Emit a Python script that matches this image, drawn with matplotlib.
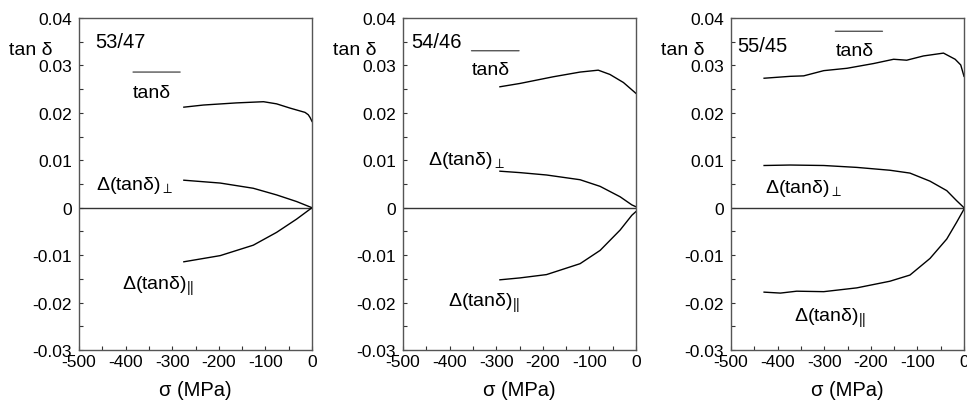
import matplotlib
matplotlib.use("Agg")
import matplotlib.pyplot as plt
from matplotlib.ticker import MultipleLocator

plt.rcParams['font.family'] = ['Liberation Sans', 'DejaVu Sans']
plt.rcParams['axes.unicode_minus'] = False
plt.rcParams['mathtext.fontset'] = 'custom'
plt.rcParams['mathtext.rm'] = 'Liberation Sans'
plt.rcParams['mathtext.it'] = 'Liberation Sans'
plt.rcParams['mathtext.bf'] = 'Liberation Sans:bold'
plt.rcParams['mathtext.fallback'] = 'stixsans'

# composition 53/47
s1_tan = [-275, -233, -162, -104, -76, -47, -15, -8, -4, 0]
v1_tan = [0.0212, 0.02165, 0.0221, 0.02235, 0.0219, 0.0210, 0.0201, 0.0196, 0.0190, 0.0182]
s1_d = [-275, -197, -126, -76, -33, 0]
v1_perp = [0.0058, 0.0052, 0.0041, 0.0027, 0.0013, 0.0]
v1_par = [-0.0114, -0.0101, -0.0079, -0.0052, -0.0024, 0.0]

# composition 54/46
s2_tan = [-292, -249, -178, -120, -81, -56, -27, 0]
v2_tan = [0.0255, 0.0262, 0.0276, 0.0286, 0.0290, 0.0281, 0.0264, 0.0241]
s2_d = [-292, -249, -192, -120, -77, -34, -9, 0]
v2_perp = [0.0077, 0.0074, 0.0069, 0.0059, 0.0045, 0.0023, 0.0006, 0.0002]
v2_par = [-0.0152, -0.0148, -0.0141, -0.0118, -0.0090, -0.0047, -0.0016, -0.0008]

# composition 55/45
s3_tan = [-429, -373, -344, -301, -251, -194, -151, -123, -87, -44, -19, -7, 0]
v3_tan = [0.0273, 0.0277, 0.0278, 0.0289, 0.0294, 0.0304, 0.0313, 0.0311, 0.0320,
          0.0326, 0.0313, 0.0301, 0.0277]
s3_perp = [-429, -373, -301, -230, -159, -116, -73, -37, -16, 0]
v3_perp = [0.0089, 0.0090, 0.0089, 0.0085, 0.0079, 0.0073, 0.0056, 0.0036, 0.0015, 0.0]
s3_par = [-429, -394, -359, -301, -230, -159, -116, -73, -37, -16, 0]
v3_par = [-0.0178, -0.0180, -0.0176, -0.0177, -0.0169, -0.0155, -0.0142, -0.0107,
          -0.0066, -0.0031, -0.0003]

panels = [
    dict(name='53/47', s_tan=s1_tan, v_tan=v1_tan, s_perp=s1_d, v_perp=v1_perp,
         s_par=s1_d, v_par=v1_par,
         name_xy=(-466, 0.0351), bar_xy=(-384, -283, 0.0286), tan_xy=(-384, 0.0242),
         perp_xy=(-464, 0.0050), par_xy=(-408, -0.0163)),
    dict(name='54/46', s_tan=s2_tan, v_tan=v2_tan, s_perp=s2_d, v_perp=v2_perp,
         s_par=s2_d, v_par=v2_par,
         name_xy=(-482, 0.0351), bar_xy=(-353, -251, 0.0331), tan_xy=(-353, 0.0292),
         perp_xy=(-446, 0.0101), par_xy=(-403, -0.0199)),
    dict(name='55/45', s_tan=s3_tan, v_tan=v3_tan, s_perp=s3_perp, v_perp=v3_perp,
         s_par=s3_par, v_par=v3_par,
         name_xy=(-487, 0.0341), bar_xy=(-276, -175, 0.0372), tan_xy=(-276, 0.0331),
         perp_xy=(-426, 0.0043), par_xy=(-364, -0.0232)),
]

lefts = [79 / 967, 403 / 967, 731 / 967]
fig = plt.figure(figsize=(9.67, 4.06), dpi=100)

for left, p in zip(lefts, panels):
    ax = fig.add_axes([left, 55 / 406, 233 / 967, 332 / 406])
    ax.set_xlim(-500, 0)
    ax.set_ylim(-0.03, 0.04)
    ax.axhline(0.0, color='#333333', linewidth=1.0)
    for s, v in [(p['s_tan'], p['v_tan']), (p['s_perp'], p['v_perp']), (p['s_par'], p['v_par'])]:
        ax.plot(s, v, color='black', linewidth=1.0)

    ax.xaxis.set_major_locator(MultipleLocator(100))
    ax.xaxis.set_minor_locator(MultipleLocator(50))
    ax.yaxis.set_minor_locator(MultipleLocator(0.005))
    ax.set_yticks([-0.03, -0.02, -0.01, 0, 0.01, 0.02, 0.03, 0.04])
    ax.set_yticklabels(['-0.03', '-0.02', '-0.01', '0', '0.01', '0.02', '0.03', '0.04'])
    ax.tick_params(which='both', direction='in', length=3, width=0.8, color='#333333',
                   labelsize=12.5, top=False, right=False)
    ax.tick_params(axis='x', pad=3)
    ax.tick_params(axis='y', pad=5)
    for sp in ax.spines.values():
        sp.set_color('#555555')
        sp.set_linewidth(1.0)

    ax.set_xlabel('σ (MPa)', fontsize=14.5, labelpad=8)
    ax.text(-0.30, 0.905, 'tan δ', transform=ax.transAxes, fontsize=14,
            ha='left', va='center')

    ax.text(p['name_xy'][0], p['name_xy'][1], p['name'], fontsize=14.5, ha='left', va='center')
    x0, x1, yb = p['bar_xy']
    ax.annotate('', xy=(x1, yb), xytext=(x0, yb),
                arrowprops=dict(arrowstyle='-', color='#555555', linewidth=1.0,
                                shrinkA=0, shrinkB=0))
    ax.text(p['tan_xy'][0], p['tan_xy'][1], 'tanδ', fontsize=14, ha='left', va='center')
    ax.text(p['perp_xy'][0], p['perp_xy'][1], r'$\Delta(\mathrm{tan}\delta)_{\bot}$',
            fontsize=14, ha='left', va='center')
    ax.text(p['par_xy'][0], p['par_xy'][1], r'$\Delta(\mathrm{tan}\delta)_{||}$',
            fontsize=14, ha='left', va='center')

fig.savefig('out.png', dpi=100)
plt.close(fig)
